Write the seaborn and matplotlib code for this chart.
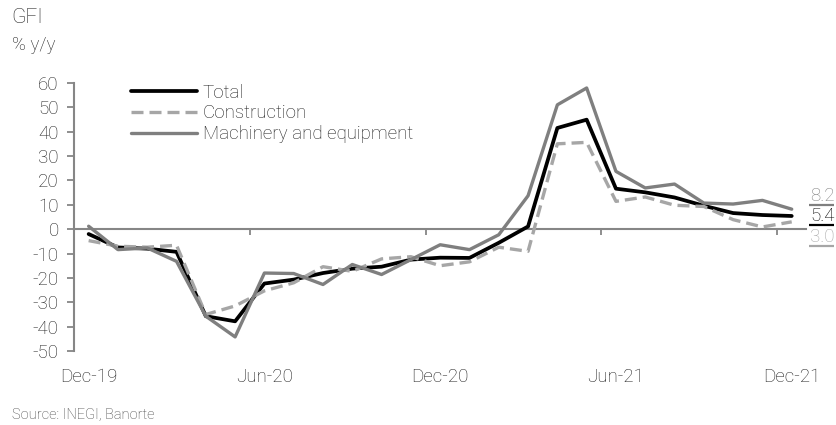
import matplotlib
matplotlib.use("Agg")
import matplotlib.pyplot as plt
import numpy as np
import pandas as pd
import seaborn as sns

sns.set_style("white")
plt.rcParams['font.family'] = ['Roboto', 'DejaVu Sans']
plt.rcParams['font.weight'] = 'light'
plt.rcParams['axes.unicode_minus'] = False

# monthly data, Dec-19 .. Dec-21 (% y/y)
months = pd.date_range("2019-12-01", "2021-12-01", freq="MS")
total = [-2.0, -7.5, -8.0, -9.3, -35.7, -37.8, -22.3, -20.7, -18.0, -16.2,
         -15.4, -12.5, -11.7, -11.8, -5.6, 1.1, 41.5, 44.9, 16.6, 15.1,
         13.0, 9.6, 6.6, 5.8, 5.4]
construction = [-4.7, -7.0, -7.4, -6.6, -35.0, -31.5, -25.3, -22.0, -15.4, -17.3,
                -12.2, -11.3, -15.0, -13.4, -7.4, -9.1, 35.0, 35.6, 11.4, 13.2,
                9.8, 9.3, 3.9, 0.9, 3.0]
machinery = [1.2, -8.4, -7.7, -13.2, -35.7, -44.2, -18.0, -18.2, -22.7, -14.5,
             -18.6, -12.5, -6.4, -8.4, -2.3, 13.7, 51.0, 57.9, 23.7, 16.9,
             18.5, 10.7, 10.3, 11.8, 8.2]
series_names = ["Total", "Construction", "Machinery and equipment"]
yticks = list(range(-50, 61, 10))

df = pd.DataFrame({"month": months, "Total": total,
                   "Construction": construction,
                   "Machinery and equipment": machinery})
df["idx"] = np.arange(len(df))
long_df = df.melt(id_vars=["month", "idx"], value_vars=series_names,
                  var_name="series", value_name="value")

colors = {"Total": "#000000", "Construction": "#a6a6a6",
          "Machinery and equipment": "#7f7f7f"}
widths = {"Total": 2.7, "Construction": 2.4, "Machinery and equipment": 2.4}
text_col = "#1e1e1e"

fig = plt.figure(figsize=(8.37, 4.25), dpi=100)
ax = fig.add_axes([0.0884, 0.174, 0.875, 0.631])

for name in series_names:
    sub = long_df[long_df["series"] == name]
    sns.lineplot(data=sub, x="idx", y="value", ax=ax, color=colors[name],
                 lw=widths[name], label=name, solid_joinstyle="round")
    if name == "Construction":
        ax.lines[-1].set_dashes((3.6, 1.8))

ax.set_xlim(-0.5, len(df) - 0.5)
ax.set_ylim(-50, 60)
ax.set_xlabel("")
ax.set_ylabel("")

# y axis
ax.set_yticks(yticks)
ax.tick_params(axis="y", direction="out", length=5, width=1.3, color="#868686",
               pad=6, labelsize=13.5, labelcolor=text_col, left=True)
for s in ["top", "right", "bottom"]:
    ax.spines[s].set_visible(False)
ax.spines["left"].set_color("#868686")
ax.spines["left"].set_linewidth(1.5)

# x labels every 6 months
lab_idx = df["idx"].values[::6]
ax.set_xticks(lab_idx)
ax.set_xticklabels(df["month"].dt.strftime("%b-%y").values[::6])
ax.tick_params(axis="x", length=0, pad=12, labelsize=13.5, labelcolor=text_col)

# zero line with tick marks between categories
zero = ax.secondary_xaxis(0, transform=ax.transData)
zero.set_xticks(lab_idx[1:] - 0.5)
zero.tick_params(axis="x", direction="out", length=4, width=1.3,
                 color="#868686", labelbottom=False)
zero.spines["bottom"].set_color("#868686")
zero.spines["bottom"].set_linewidth(1.5)

# end labels
label_y = {"Machinery and equipment": 13.7, "Total": 5.5, "Construction": -3.1}
for name in ["Machinery and equipment", "Total", "Construction"]:
    v = df[name].iloc[-1]
    y = label_y[name]
    ax.text(24.62, y, f"{v:.1f}", ha="left", va="center", fontsize=13.5,
            color=colors[name], clip_on=False)
    ax.plot([24.6, 25.45], [y - 3.9, y - 3.9], color=colors[name], lw=1.6,
            clip_on=False, solid_capstyle="butt")

leg = ax.legend(loc="upper left", bbox_to_anchor=(0.068, 1.025), frameon=False,
                fontsize=13.5, handlelength=3.5, handletextpad=0.3,
                labelspacing=0.15, borderaxespad=0)
for t in leg.get_texts():
    t.set_color(text_col)

fig.text(0.014, 0.958, "GFI", fontsize=15, color=text_col, va="center")
fig.text(0.014, 0.894, "% y/y", fontsize=13.5, color=text_col, va="center")
fig.text(0.014, 0.024, "Source: INEGI, Banorte", fontsize=10.5,
         color="#404040", va="center")

fig.savefig("out.png", dpi=100)
